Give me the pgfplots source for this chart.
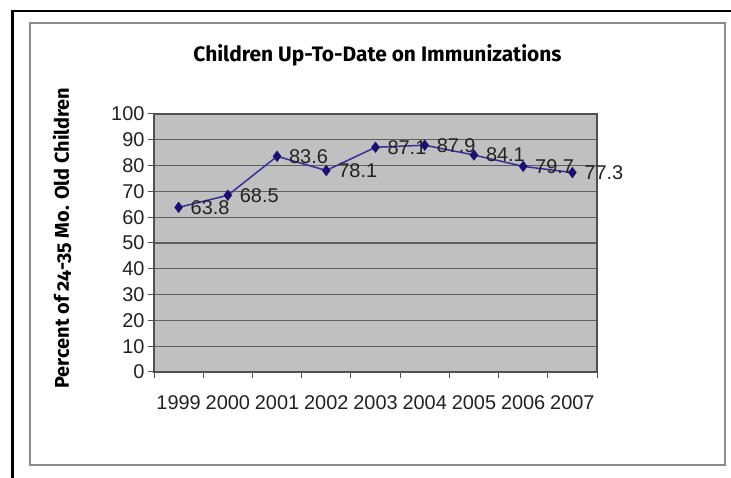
\documentclass[border=0pt]{standalone}
\usepackage{fontspec}
\setmainfont{Liberation Sans}
\newfontfamily\headfont{Fira Sans}[Numbers=OldStyle]
\usepackage{pgfplots}
\pgfplotsset{compat=1.18}

\definecolor{plotbg}{RGB}{192,192,192}
\definecolor{gridgray}{RGB}{95,95,95}
\definecolor{axisgray}{RGB}{80,80,80}
\definecolor{seriesline}{RGB}{58,47,154}
\definecolor{seriesmark}{RGB}{28,15,114}
\definecolor{framegray}{RGB}{140,140,140}
\definecolor{labeltext}{RGB}{34,34,34}

\begin{document}
\begin{tikzpicture}[x=1bp,y=1bp]
\path[use as bounding box] (0,0) rectangle (731,478);
% outer frame (top and left edges)
\draw[line width=2.7bp] (12.5,0) -- (12.5,467) -- (731,467);
% chart area border
\draw[framegray, line width=1.3bp] (30,13) rectangle (725,455);
\node[font=\headfont\bfseries\fontsize{21}{24}\selectfont] at (377.5,423)
  {Children Up-To-Date on Immunizations};
\node[rotate=90, font=\headfont\bfseries\fontsize{20}{23}\selectfont] at (62,240)
  {Percent of 24-35 Mo. Old Children};
\begin{axis}[
  at={(154bp,106bp)}, anchor=south west,
  scale only axis, width=443bp, height=258bp,
  xmin=-0.5, xmax=8.5, ymin=0, ymax=100,
  axis background/.style={fill=plotbg},
  axis line style={axisgray, line width=1.2bp},
  xtick={0,1,2,3,4,5,6,7,8},
  xticklabels={1999,2000,2001,2002,2003,2004,2005,2006,2007},
  major x tick style={draw=none},
  minor xtick={-0.5,0.5,1.5,2.5,3.5,4.5,5.5,6.5,7.5,8.5},
  minor x tick style={axisgray, line width=1bp},
  ytick={0,10,...,100},
  y tick style={axisgray, line width=1bp},
  tick align=outside,
  major tick length=6bp, minor tick length=6bp,
  xtick pos=bottom, ytick pos=left,
  ymajorgrids,
  grid style={gridgray, line width=1.1bp},
  ticklabel style={font=\fontsize{20}{24}\selectfont, text=labeltext},
  xticklabel style={yshift=-14bp},
  /pgf/number format/assume math mode=true,
  clip=false,
  nodes near coords,
  nodes near coords align={horizontal},
  every node near coord/.append style={font=\fontsize{20}{24}\selectfont,
    text=labeltext, anchor=west, xshift=8bp,
    /pgf/number format/.cd, fixed, precision=1, fixed zerofill},
]
\addplot[seriesline, line width=1.5bp, mark=diamond*, mark size=4.5bp,
  mark options={fill=seriesmark, draw=seriesmark}]
  coordinates {(0,63.8) (1,68.5) (2,83.6) (3,78.1) (4,87.1)
               (5,87.9) (6,84.1) (7,79.7) (8,77.3)};
\end{axis}
\end{tikzpicture}
\end{document}
